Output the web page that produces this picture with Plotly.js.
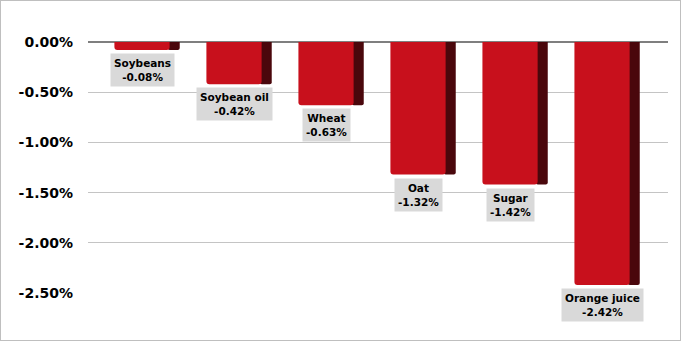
<!DOCTYPE html>
<html>
<head>
<meta charset="utf-8">
<script src="https://cdn.plot.ly/plotly-3.0.1.min.js"></script>
<style>
html,body{margin:0;padding:0;background:#fff;}
#chart{width:679px;height:339px;border:1px solid #bfbfbf;}
</style>
</head>
<body>
<div id="chart"></div>
<script>
const categories = ["Soybeans", "Soybean oil", "Wheat", "Oat", "Sugar", "Orange juice"];
const values = [-0.08, -0.42, -0.63, -1.32, -1.42, -2.42];
const valueLabels = ["-0.08%", "-0.42%", "-0.63%", "-1.32%", "-1.42%", "-2.42%"];
const tickVals = [0, -0.5, -1.0, -1.5, -2.0, -2.5];
const tickText = ["0.00%", "-0.50%", "-1.00%", "-1.50%", "-2.00%", "-2.50%"];

const side = {
  type: "bar", x: categories, y: values,
  width: 0.13, offset: 0.28,
  marker: {color: "#4a070c", line: {width: 0}, cornerradius: 2},
  hoverinfo: "skip"
};
const front = {
  type: "bar", x: categories, y: values,
  width: 0.6, offset: -0.3,
  marker: {color: "#c8101c", line: {width: 0}, cornerradius: 3},
  hoverinfo: "skip"
};

const annotations = categories.map((c, i) => ({
  x: c, y: values[i], xref: "x", yref: "y",
  text: c + "<br>" + valueLabels[i],
  showarrow: false, yanchor: "top", xanchor: "center",
  yshift: -3, bgcolor: "#d9d9d9", borderpad: 3,
  font: {family: "DejaVu Sans", size: 10.5, color: "#000", weight: "bold"},
  align: "center"
}));

const layout = {
  width: 679, height: 339,
  margin: {l: 87, r: 12, t: 41, b: 47},
  paper_bgcolor: "#fff", plot_bgcolor: "#fff",
  showlegend: false, barmode: "overlay",
  xaxis: {
    type: "category", range: [-0.587, 5.717],
    showticklabels: false, showgrid: false, zeroline: false, showline: false,
    fixedrange: true
  },
  yaxis: {
    range: [-2.5, 0], tickvals: tickVals, ticktext: tickText,
    showgrid: true, gridcolor: "#c4c4c4", gridwidth: 1,
    zeroline: true, zerolinecolor: "#7f7f7f", zerolinewidth: 1.5,
    showline: false, ticks: "", ticklabelstandoff: 14,
    tickfont: {family: "DejaVu Sans", size: 14, color: "#000", weight: "bold"},
    fixedrange: true
  },
  annotations: annotations
};

Plotly.newPlot("chart", [side, front], layout, {displayModeBar: false, staticPlot: true});
</script>
</body>
</html>
